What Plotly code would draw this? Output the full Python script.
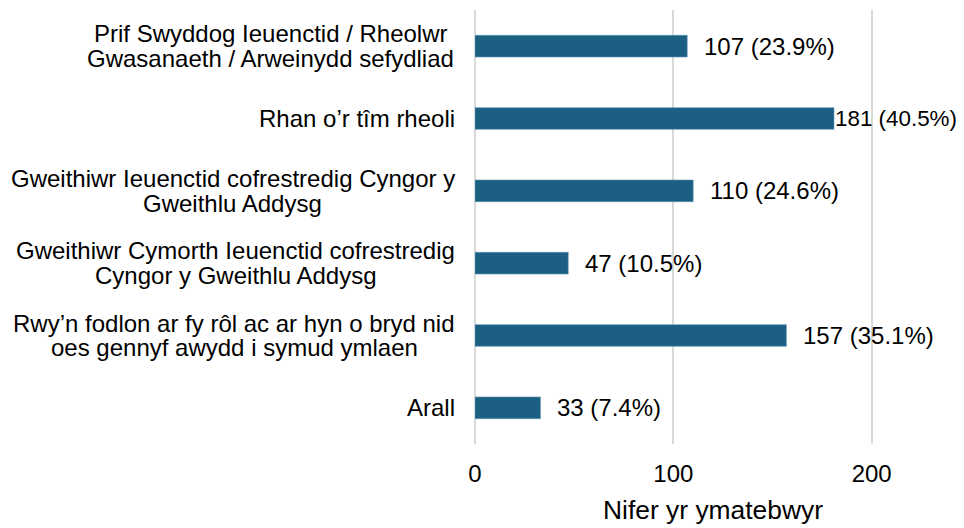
import plotly.graph_objects as go

categories = [
    "Prif Swyddog Ieuenctid / Rheolwr\nGwasanaeth / Arweinydd sefydliad",
    "Rhan o’r tîm rheoli",
    "Gweithiwr Ieuenctid cofrestredig Cyngor y\nGweithlu Addysg",
    "Gweithiwr Cymorth Ieuenctid cofrestredig\nCyngor y Gweithlu Addysg",
    "Rwy’n fodlon ar fy rôl ac ar hyn o bryd nid\noes gennyf awydd i symud ymlaen",
    "Arall",
]
counts = [107, 181, 110, 47, 157, 33]
percents = ["23.9%", "40.5%", "24.6%", "10.5%", "35.1%", "7.4%"]
x_ticks = [0, 100, 200]
x_max = 240

font = "Liberation Sans, Arial, sans-serif"
FS = 24
LINE = 24.7
W, H = 956, 520
ML, MR, MT, MB = 467, 13, 2, 84
PLOT_W = W - ML - MR

# Arial / Liberation Sans advance widths (per 1000 em)
AW = {" ": 278, "’": 222, "/": 278, "(": 333, ")": 333, ".": 278, "%": 889,
      "A": 667, "C": 722, "G": 778, "I": 278, "P": 667, "R": 722, "S": 667,
      "a": 556, "b": 556, "c": 500, "d": 556, "e": 556, "f": 278, "g": 556,
      "h": 556, "i": 222, "l": 222, "m": 833, "n": 556, "o": 556, "p": 556,
      "r": 333, "s": 500, "t": 278, "u": 556, "w": 722, "y": 500, "î": 278,
      "ô": 556}


def text_em(s):
    return sum(AW.get(ch, 556) for ch in s) / 1000.0


fig = go.Figure()
fig.add_trace(go.Bar(
    y=categories, x=counts, orientation="h",
    marker=dict(color="#1B6083", line=dict(color="#5E93B3", width=0.6)),
    width=0.3, hoverinfo="skip",
))
for c, v, p in zip(categories, counts, percents):
    label = f"{v} ({p})"
    em = text_em(label)
    avail = (x_max - v) / x_max * PLOT_W + MR
    gap, size = 16, FS
    if gap + em * FS > avail - 4:
        gap = 0
        size = (avail - 8) / em
    fig.add_annotation(x=v, y=c, text=label, showarrow=False,
                       xanchor="left", yanchor="middle", xshift=gap - 1,
                       font=dict(family=font, size=size, color="#000000"))
    lines = c.split("\n")
    n = len(lines)
    block_w = max(text_em(ln) for ln in lines) * FS
    for i, ln in enumerate(lines):
        fig.add_annotation(x=0, xref="paper", y=c, text=ln, showarrow=False,
                           xanchor="center", yanchor="middle",
                           xshift=-20 - block_w / 2,
                           yshift=((n - 1) / 2 - i) * LINE,
                           font=dict(family=font, size=FS, color="#000000"))

fig.update_layout(
    width=W, height=H,
    margin=dict(l=ML, r=MR, t=MT, b=MB, autoexpand=False),
    plot_bgcolor="white", paper_bgcolor="white",
    showlegend=False,
    font=dict(family=font, size=FS, color="#000000"),
    xaxis=dict(range=[0, x_max], tickvals=x_ticks, showgrid=True,
               gridcolor="#D9D9D9", gridwidth=1.5, zeroline=True,
               zerolinecolor="#D9D9D9", zerolinewidth=1.5,
               title=dict(text="Nifer yr ymatebwyr", standoff=14,
                          font=dict(family=font, size=26.4)),
               tickfont=dict(family=font, size=FS), ticks="",
               ticklabelstandoff=13, automargin=False, fixedrange=True),
    yaxis=dict(categoryorder="array", categoryarray=categories[::-1],
               showticklabels=False, ticks="", showgrid=False,
               automargin=False, fixedrange=True),
)
fig.write_html("out.html")
